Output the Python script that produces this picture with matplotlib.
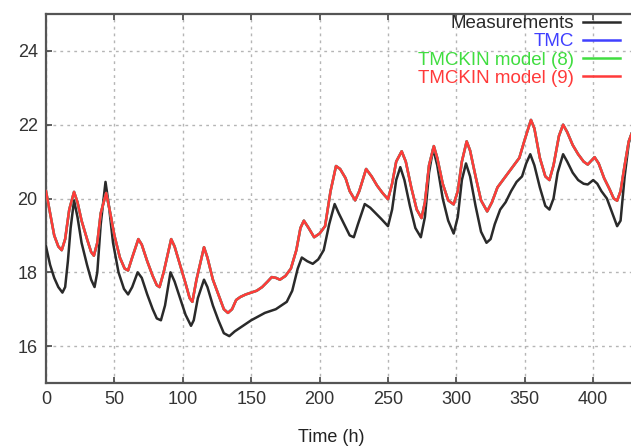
import matplotlib
matplotlib.use('Agg')
import matplotlib.pyplot as plt

# Measured temperature (time in h, value)
meas_t = [0, 3, 6, 9, 12, 14, 16, 18, 20.5, 23, 26, 30, 33, 35.5, 37.5, 40, 43.5, 46, 49,
          53, 57, 60, 63, 67, 70, 74, 78, 81, 84, 87, 91, 94, 98, 102, 106, 108, 111,
          115.5, 118, 122, 126, 130, 134, 138, 142, 146, 150, 155, 160, 164, 168, 172,
          176, 180, 184, 187, 191, 195, 199, 203, 207, 211, 214, 218, 222, 225, 228, 233,
          237, 241, 245, 250, 253, 256, 259, 262, 266, 270, 274, 277, 280, 283, 286, 290,
          294, 298, 301, 304, 307, 310, 314, 318, 322, 325, 328, 332, 336, 340, 344, 348,
          351, 354, 357, 361, 365, 368, 371, 374, 378, 381, 385, 389, 393, 396, 400, 403,
          406, 410, 414, 417.5, 420, 423, 426, 428]
meas_v = [18.7, 18.2, 17.85, 17.6, 17.45, 17.6, 18.3, 19.2, 19.95, 19.5, 18.8, 18.2, 17.8,
          17.6, 18.0, 19.3, 20.45, 19.8, 18.8, 18.0, 17.55, 17.4, 17.6, 18.0, 17.85, 17.4,
          17.0, 16.75, 16.7, 17.1, 18.0, 17.75, 17.3, 16.85, 16.55, 16.7, 17.3, 17.8, 17.6,
          17.1, 16.7, 16.35, 16.27, 16.4, 16.5, 16.6, 16.7, 16.8, 16.9, 16.95, 17.0, 17.1,
          17.2, 17.5, 18.1, 18.4, 18.3, 18.23, 18.35, 18.6, 19.3, 19.85, 19.6, 19.3, 19.0,
          18.95, 19.3, 19.85, 19.75, 19.6, 19.45, 19.25, 19.7, 20.5, 20.85, 20.5, 19.8, 19.2,
          18.95, 19.5, 20.7, 21.35, 20.9, 20.0, 19.4, 19.05, 19.5, 20.5, 20.95, 20.6, 19.8,
          19.1, 18.8, 18.9, 19.3, 19.7, 19.9, 20.2, 20.45, 20.6, 20.95, 21.2, 20.9, 20.3,
          19.8, 19.7, 20.0, 20.7, 21.2, 21.0, 20.7, 20.5, 20.4, 20.38, 20.5, 20.4, 20.2,
          20.0, 19.6, 19.25, 19.4, 20.6, 21.5, 21.75]

# Model output (TMC and both TMCKIN variants coincide)
model_t = [0, 3, 6, 9, 11.5, 14, 17, 20.5, 23, 26, 30, 33, 35, 37.5, 40, 44, 47, 50, 54,
           57.5, 60, 63, 67.5, 70, 74, 78, 81, 83, 86, 91.5, 94, 98, 102, 105, 107, 110,
           115.5, 118, 122, 126, 130, 133, 136, 139, 142, 146, 150, 154, 158, 162, 165,
           168, 171, 175, 179, 183, 186, 188.5, 192, 196, 200, 204, 208, 212, 215, 219,
           222, 226, 229, 234, 238, 242, 246, 250, 253, 256, 260, 263, 267, 271, 274.5,
           277, 280, 283.5, 286, 290, 294, 298, 301, 304, 307.5, 310, 314, 318, 322.5, 326,
           330, 334, 338, 342, 346, 350, 354.5, 357, 361, 365, 368, 371, 375, 378, 381, 385,
           389, 393, 396, 401, 404, 408, 412, 415, 417.5, 420, 423, 426, 428]
model_v = [20.2, 19.6, 19.0, 18.7, 18.6, 18.9, 19.7, 20.18, 19.9, 19.4, 18.9, 18.55, 18.45,
           18.8, 19.6, 20.15, 19.6, 19.0, 18.4, 18.1, 18.05, 18.4, 18.9, 18.75, 18.3, 17.9,
           17.65, 17.6, 18.0, 18.9, 18.7, 18.2, 17.7, 17.3, 17.2, 17.8, 18.68, 18.4, 17.8,
           17.4, 17.0, 16.9, 17.0, 17.25, 17.33, 17.4, 17.45, 17.5, 17.6, 17.75, 17.87,
           17.85, 17.8, 17.9, 18.1, 18.6, 19.2, 19.4, 19.2, 18.95, 19.05, 19.25, 20.2, 20.88,
           20.8, 20.55, 20.2, 19.95, 20.2, 20.8, 20.6, 20.35, 20.15, 19.98, 20.4, 21.0, 21.28,
           21.0, 20.3, 19.7, 19.47, 19.9, 20.9, 21.42, 21.1, 20.4, 19.95, 19.84, 20.2, 21.0,
           21.55, 21.3, 20.6, 19.95, 19.65, 19.9, 20.3, 20.5, 20.7, 20.9, 21.1, 21.6, 22.13,
           21.9, 21.1, 20.6, 20.5, 20.9, 21.7, 22.0, 21.8, 21.45, 21.2, 21.0, 20.92, 21.12,
           20.95, 20.55, 20.25, 20.0, 19.94, 20.2, 20.9, 21.55, 21.75]

labels = ['Measurements', 'TMC', 'TMCKIN model (8)', 'TMCKIN model (9)']
colors = ['#2a2a2a', '#4040ff', '#40dd40', '#ff3a3a']

plt.rcParams['font.family'] = ['Liberation Sans', 'DejaVu Sans']

W, H = 631, 447
fig = plt.figure(figsize=(W / 100, H / 100), dpi=100)
# axes run past the right edge, the reference is cropped there
ax = fig.add_axes([46 / W, 64 / H, 615.6 / W, 369 / H])

ax.plot(meas_t, meas_v, color=colors[0], lw=1.8, label=labels[0], zorder=3)
ax.plot(model_t, model_v, color=colors[1], lw=1.8, label=labels[1], zorder=3)
ax.plot(model_t, model_v, color=colors[2], lw=1.8, label=labels[2], zorder=3)
ax.plot(model_t, model_v, color=colors[3], lw=1.8, label=labels[3], zorder=4)

ax.set_xlim(0, 450)
ax.set_ylim(15, 25)
ax.set_xticks([0, 50, 100, 150, 200, 250, 300, 350, 400])
ax.set_yticks([16, 18, 20, 22, 24])

ax.grid(True, color='#b5b5b5', linestyle=(0, (2, 3)), lw=1.0)
for s in ax.spines.values():
    s.set_color('#555555')
    s.set_linewidth(1.6)
ax.tick_params(direction='in', length=4, width=1.2, color='#444444',
               top=True, right=False, labelsize=13, labelcolor='#333333', pad=6)

ax.set_xlabel('Time (h)', fontsize=13, color='#222222')
ax.xaxis.set_label_coords(331 / W, 10 / H, transform=fig.transFigure)
ax.xaxis.label.set_va('center')

leg = ax.legend(loc='upper right', bbox_to_anchor=(620 / W, 1 - 15 / H),
                bbox_transform=fig.transFigure, frameon=False, markerfirst=False,
                fontsize=13.5, labelspacing=0.06, handlelength=2.0,
                handletextpad=0.45, borderpad=0, borderaxespad=0)
for txt, c in zip(leg.get_texts(), colors):
    txt.set_color(c)

fig.savefig('out.png', dpi=100)
